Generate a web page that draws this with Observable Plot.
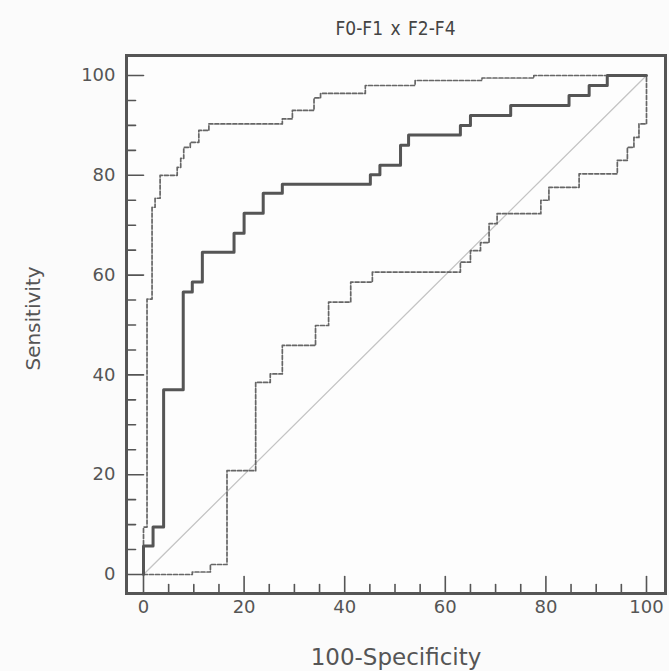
<!DOCTYPE html>
<html><head><meta charset="utf-8">
<script src="https://cdn.jsdelivr.net/npm/d3@7"></script>
<script src="https://cdn.jsdelivr.net/npm/@observablehq/plot@0.6"></script>
<style>
body{margin:0;background:#fbfbfb;}
#title{height:50px;box-sizing:border-box;padding:16px 4px 0 126px;text-align:center;font:19px "DejaVu Sans Condensed","Liberation Sans Narrow","DejaVu Sans",sans-serif;font-stretch:condensed;color:#444;line-height:24px;word-spacing:2px;}
</style></head><body>
<div id="title">F0-F1 x F2-F4</div>
<div id="chart"></div>
<script>
// ROC curve (step vertices: jump at x to level y)
const rocX = [0, 0, 1.9, 4, 7.9, 9.7, 11.7, 18, 20, 23.8, 27.6, 45.1, 47, 51.1, 52.7, 63, 65, 73, 84.6, 88.6, 92.2, 100];
const rocY = [0, 5.7, 9.5, 37, 56.6, 58.6, 64.6, 68.4, 72.4, 76.4, 78.2, 80.1, 82, 86, 88.1, 90, 92, 94, 96, 98, 100, 100];
// Upper confidence bound
const upperX = [0, 0, 0.7, 1.7, 2.3, 3.3, 6.7, 7.4, 8, 9.3, 11, 13, 27.6, 29.6, 33.9, 35.2, 44.1, 54, 67.3, 77.6, 100];
const upperY = [0, 9.5, 55.2, 73.6, 75.4, 80, 81.6, 83.4, 85.6, 86.6, 89, 90.3, 91.3, 93, 95.5, 96.4, 98, 99, 99.5, 100, 100];
// Lower confidence bound
const lowerX = [0, 9.7, 13.3, 16.6, 22.3, 25.2, 27.6, 34.2, 36.8, 41.2, 45.5, 63, 65, 67, 68.7, 70.3, 79, 80.6, 86.6, 94.2, 96.2, 97.5, 98.5, 100];
const lowerY = [0, 0.5, 2, 20.8, 38.5, 40.2, 45.9, 49.9, 54.6, 58.6, 60.6, 62.6, 64.9, 66.5, 70.3, 72.3, 75, 77.6, 80.3, 83, 85.6, 87.6, 90.3, 100];
// Reference diagonal
const diagX = [0, 100];
const diagY = [0, 100];
// Ticks
const majorTicks = [0, 20, 40, 60, 80, 100];
const minorTicks = [5, 10, 15, 25, 30, 35, 45, 50, 55, 65, 70, 75, 85, 90, 95];
const xLabel = "100-Specificity";
const yLabel = "Sensitivity";

const toRows = (xs, ys) => xs.map((x, i) => ({x, y: ys[i]}));
const roc = toRows(rocX, rocY);
const upper = toRows(upperX, upperY);
const lower = toRows(lowerX, lowerY);
const diag = toRows(diagX, diagY);

const tickShape = {draw(context, l) { context.moveTo(0, 0); context.lineTo(0, -l); }};
const tickStyle = {stroke: "#555", strokeWidth: 1.6, anchor: "start", shape: tickShape};

const chart = Plot.plot({
  width: 669, height: 621,
  marginLeft: 126, marginRight: 4, marginTop: 5, marginBottom: 78,
  style: {background: "transparent", color: "#555", fontFamily: "'DejaVu Sans', sans-serif", fontSize: "18px"},
  x: {domain: [0, 100], range: [143, 646]},
  y: {domain: [0, 100], range: [524, 25]},
  marks: [
    Plot.frame({fill: "#fdfdfd"}),
    Plot.line(diag, {x: "x", y: "y", stroke: "#c4c4c4", strokeWidth: 1.3}),
    Plot.line(upper, {x: "x", y: "y", curve: "step-after", stroke: "#666", strokeWidth: 1.7, strokeDasharray: "4,2"}),
    Plot.line(lower, {x: "x", y: "y", curve: "step-after", stroke: "#666", strokeWidth: 1.7, strokeDasharray: "4,2"}),
    Plot.line(roc, {x: "x", y: "y", curve: "step-after", stroke: "#555", strokeWidth: 3}),
    Plot.vector(majorTicks, {x: d => d, frameAnchor: "bottom", length: 17, rotate: 0, ...tickStyle}),
    Plot.vector(minorTicks, {x: d => d, frameAnchor: "bottom", length: 9, rotate: 0, ...tickStyle}),
    Plot.vector(majorTicks, {y: d => d, frameAnchor: "left", length: 17, rotate: 90, ...tickStyle}),
    Plot.vector(minorTicks, {y: d => d, frameAnchor: "left", length: 9, rotate: 90, ...tickStyle}),
    Plot.frame({stroke: "#555", strokeWidth: 3}),
    Plot.axisX(majorTicks, {tickSize: 0, tickPadding: 7, fontSize: 18, label: null}),
    Plot.axisY(majorTicks, {tickSize: 0, tickPadding: 11, fontSize: 18, label: null}),
    Plot.text([xLabel], {frameAnchor: "bottom", dy: 64, lineAnchor: "middle", textAnchor: "middle", fontSize: 23, fill: "#555"}),
    Plot.text([yLabel], {frameAnchor: "left", dx: -93, dy: -6, rotate: -90, lineAnchor: "middle", textAnchor: "middle", fontSize: 20, fill: "#555"})
  ]
});
document.getElementById("chart").appendChild(chart);
</script>
</body></html>
